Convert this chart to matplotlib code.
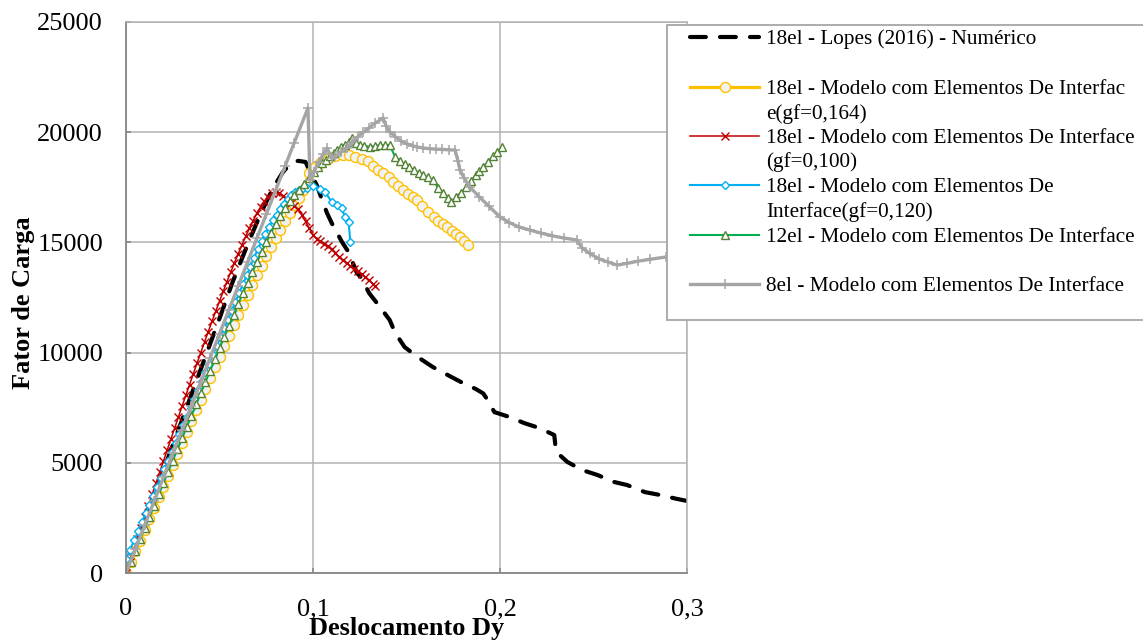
import matplotlib
matplotlib.use("Agg")
import matplotlib.pyplot as plt
from matplotlib.lines import Line2D
from matplotlib.patches import Rectangle

plt.rcParams['font.family'] = ['Liberation Serif', 'DejaVu Serif']

# --- data ---
lopes_x = [0, 0.01, 0.02, 0.03, 0.04, 0.05, 0.057, 0.065, 0.072, 0.0786, 0.084, 0.088,
           0.092, 0.096, 0.099, 0.102, 0.105, 0.1075, 0.110, 0.1155, 0.119, 0.1235,
           0.126, 0.130, 0.135, 0.141, 0.144, 0.149, 0.156, 0.164, 0.171, 0.179, 0.187,
           0.191, 0.193, 0.197, 0.205, 0.213, 0.221, 0.229, 0.230, 0.236, 0.244, 0.252,
           0.261, 0.268, 0.2775, 0.2856, 0.2947, 0.300]
lopes_y = [0, 2300, 4650, 6950, 9250, 11550, 13200, 14900, 16300, 17470, 18200, 18580,
           18700, 18650, 18100, 17600, 16900, 16330, 15880, 15020, 14560, 13610,
           13380, 12700, 12160, 11480, 10890, 10250, 9800, 9350, 9030, 8670, 8350,
           8150, 7900, 7300, 7080, 6800, 6580, 6260, 5500, 5040, 4670, 4450,
           4130, 3990, 3670, 3540, 3360, 3270]

gf164_x = [0, 0.0025, 0.005, 0.0075, 0.01, 0.0125, 0.015, 0.0175, 0.02, 0.0225, 0.025,
           0.0275, 0.03, 0.0325, 0.035, 0.0375, 0.04, 0.0425, 0.045, 0.0475, 0.05,
           0.0525, 0.055, 0.0575, 0.06, 0.0625, 0.065, 0.0675, 0.07, 0.0725, 0.075,
           0.0775, 0.08, 0.0825, 0.085, 0.0875, 0.09, 0.0925, 0.0947, 0.098, 0.101,
           0.104, 0.108, 0.112, 0.116, 0.119, 0.1225, 0.126, 0.1295, 0.132, 0.135,
           0.1375, 0.1405, 0.143, 0.1455, 0.148, 0.151, 0.1535, 0.1556, 0.1585, 0.1615,
           0.1645, 0.167, 0.1695, 0.1717, 0.1745, 0.1765, 0.1786, 0.181, 0.183]
gf164_y = [0, 490, 980, 1470, 1960, 2450, 2940, 3430, 3920, 4410, 4900,
           5400, 5900, 6400, 6890, 7380, 7870, 8360, 8850, 9330, 9810,
           10290, 10770, 11240, 11710, 12170, 12630, 13080, 13520, 13950, 14370,
           14780, 15180, 15570, 15950, 16320, 16680, 17030, 17380, 18150, 18400,
           18600, 18780, 18900, 18950, 18960, 18880, 18800, 18700, 18450, 18300,
           18150, 17950, 17740, 17560, 17380, 17200, 17050, 16920, 16650, 16380,
           16150, 15980, 15820, 15700, 15500, 15370, 15240, 15050, 14880]

gf100_x = [0, 0.002, 0.004, 0.006, 0.008, 0.010, 0.012, 0.014, 0.016, 0.018, 0.020,
           0.022, 0.024, 0.026, 0.028, 0.030, 0.032, 0.034, 0.036, 0.038, 0.040,
           0.042, 0.044, 0.046, 0.048, 0.050, 0.052, 0.054, 0.056, 0.058, 0.060,
           0.062, 0.064, 0.066, 0.068, 0.070, 0.072, 0.074, 0.076, 0.078, 0.080,
           0.082, 0.084, 0.086, 0.088, 0.090, 0.092, 0.094, 0.096, 0.098, 0.100,
           0.102, 0.104, 0.106, 0.108, 0.110, 0.112, 0.114, 0.116, 0.118, 0.120,
           0.122, 0.124, 0.126, 0.128, 0.130, 0.132, 0.133]
gf100_y = [0, 510, 1020, 1530, 2040, 2550, 3060, 3570, 4070, 4570, 5070,
           5570, 6070, 6570, 7070, 7570, 8060, 8550, 9040, 9520, 10000,
           10480, 10950, 11420, 11880, 12330, 12780, 13220, 13650, 14070, 14480,
           14880, 15270, 15640, 15990, 16320, 16620, 16880, 17080, 17220, 17290,
           17250, 17120, 16950, 16800, 16650, 16500, 16250, 15950, 15650, 15350,
           15150, 15050, 14950, 14820, 14680, 14520, 14350, 14200, 14050, 13920,
           13800, 13680, 13550, 13420, 13280, 13120, 13020]

gf120_x = [0, 0.002, 0.0045, 0.0065, 0.0085, 0.0105, 0.0125, 0.0145, 0.0165, 0.0185,
           0.0205, 0.0225, 0.0245, 0.0265, 0.0285, 0.0305, 0.0325, 0.0345, 0.0365,
           0.0385, 0.0405, 0.0425, 0.0445, 0.0465, 0.0485, 0.0505, 0.0525, 0.0545,
           0.0565, 0.0585, 0.0605, 0.0625, 0.0645, 0.0665, 0.0685, 0.0705, 0.0725,
           0.0745, 0.0765, 0.0785, 0.0805, 0.0825, 0.0845, 0.0865, 0.0885, 0.0905,
           0.0925, 0.0945, 0.0968, 0.100, 0.1035, 0.1065, 0.110, 0.113, 0.1155,
           0.117, 0.119, 0.120]
gf120_y = [620, 1040, 1500, 1900, 2300, 2700, 3100, 3500, 3900, 4300,
           4700, 5100, 5500, 5900, 6300, 6700, 7100, 7500, 7900,
           8300, 8700, 9100, 9500, 9900, 10300, 10700, 11100, 11500,
           11900, 12300, 12700, 13100, 13500, 13900, 14300, 14700, 15050,
           15400, 15700, 16000, 16250, 16500, 16750, 16950, 17150, 17300,
           17400, 17450, 17470, 17550, 17420, 17290, 16830, 16700, 16560,
           16150, 15920, 15020]

el12_x = [0, 0.0025, 0.005, 0.0075, 0.01, 0.0125, 0.015, 0.0175, 0.02, 0.0225, 0.025,
          0.0275, 0.03, 0.0325, 0.035, 0.0375, 0.04, 0.0425, 0.045, 0.0475, 0.05,
          0.0525, 0.055, 0.0575, 0.06, 0.0625, 0.065, 0.0675, 0.07, 0.0725, 0.075,
          0.0775, 0.08, 0.0825, 0.085, 0.0875, 0.09, 0.0925, 0.095, 0.098, 0.1005,
          0.1027, 0.105, 0.107, 0.109, 0.111, 0.113, 0.115, 0.117, 0.119, 0.121,
          0.123, 0.125, 0.1275, 0.1305, 0.133, 0.136, 0.1385, 0.141, 0.144, 0.1465,
          0.149, 0.1515, 0.154, 0.1565, 0.159, 0.1615, 0.164, 0.167, 0.1695, 0.172,
          0.174, 0.1765, 0.179, 0.182, 0.1845, 0.187, 0.189, 0.191, 0.1935, 0.196,
          0.1985, 0.201]
el12_y = [0, 510, 1020, 1530, 2040, 2550, 3060, 3570, 4080, 4590, 5100,
          5610, 6120, 6630, 7140, 7650, 8160, 8670, 9180, 9690, 10200,
          10700, 11200, 11700, 12200, 12690, 13170, 13640, 14100, 14550, 15000,
          15420, 15820, 16200, 16560, 16880, 17150, 17400, 17650, 17920, 18200,
          18420, 18600, 18740, 18900, 19050, 19190, 19320, 19440, 19550, 19730,
          19500, 19420, 19380, 19330, 19360, 19420, 19400, 19420, 18870, 18700,
          18550, 18400, 18280, 18150, 18050, 17950, 17830, 17470, 17250, 17000,
          16830, 17050, 17250, 17510, 17800, 18050, 18250, 18420, 18650, 18900,
          19100, 19330]

el8_x = [0, 0.005, 0.01, 0.015, 0.02, 0.025, 0.03, 0.035, 0.04, 0.045, 0.05, 0.055,
         0.06, 0.065, 0.07, 0.075, 0.08, 0.085, 0.09, 0.0973, 0.0984, 0.1005, 0.103,
         0.1055, 0.1075, 0.110, 0.112, 0.115, 0.118, 0.121, 0.124, 0.127, 0.130,
         0.133, 0.1375, 0.139, 0.141, 0.144, 0.147, 0.150, 0.1535, 0.1556, 0.159,
         0.1625, 0.166, 0.169, 0.1725, 0.176, 0.1775, 0.1786, 0.181, 0.184, 0.189,
         0.194, 0.200, 0.205, 0.210, 0.216, 0.222, 0.228, 0.234, 0.241, 0.244,
         0.248, 0.253, 0.258, 0.2626, 0.268, 0.274, 0.280, 0.289, 0.295, 0.300]
el8_y = [0, 1085, 2170, 3255, 4340, 5425, 6510, 7595, 8680, 9765, 10850, 11935,
         13020, 14105, 15190, 16275, 17360, 18445, 19530, 21100, 17830, 18200, 18650,
         19000, 19280, 18830, 18900, 19100, 19300, 19550, 19800, 20000, 20200,
         20400, 20640, 20300, 20010, 19800, 19600, 19480, 19380, 19330, 19280,
         19250, 19230, 19220, 19200, 19190, 18700, 18280, 17900, 17500, 17060,
         16650, 16150, 15900, 15700, 15560, 15420, 15300, 15200, 15110, 14740,
         14500, 14250, 14100, 13970, 14050, 14150, 14230, 14340, 14400, 14450]

labels = ['18el - Lopes (2016) - Numérico',
          '18el - Modelo com Elementos De Interfac\ne(gf=0,164)',
          '18el - Modelo com Elementos De Interface\n(gf=0,100)',
          '18el - Modelo com Elementos De\nInterface(gf=0,120)',
          '12el - Modelo com Elementos De Interface',
          '8el - Modelo com Elementos De Interface']

styles = [
    dict(color='black', lw=3.0, dashes=(3.8, 3.4), dash_capstyle='round'),
    dict(color='#FFC000', lw=2.3, marker='o', ms=7.2, mfc='#F2F2F2', mec='#FFC000', mew=1.0),
    dict(color='#C00000', lw=1.1, marker='x', ms=5.5, mec='#C00000', mew=1.0),
    dict(color='#00B0F0', lw=1.5, marker='D', ms=4.2, mfc='white', mec='#00B0F0', mew=1.0),
    dict(color='#00B050', lw=1.5, marker='^', ms=5.2, mfc='white', mec='#548235', mew=1.0),
    dict(color='#A5A5A5', lw=2.4, marker='+', ms=6.5, mec='#A5A5A5', mew=1.1),
]

W, H = 1143, 640
fig = plt.figure(figsize=(W / 100, H / 100), dpi=100)
ax = fig.add_axes([126 / W, (H - 573) / H, 561 / W, 551 / H])

series = [(lopes_x, lopes_y), (gf164_x, gf164_y), (gf100_x, gf100_y),
          (gf120_x, gf120_y), (el12_x, el12_y), (el8_x, el8_y)]
for (xs, ys), st in zip(series, styles):
    ax.plot(xs, ys, **st)

ax.set_xlim(0, 0.3)
ax.set_ylim(0, 25000)
ax.set_xticks([0, 0.1, 0.2, 0.3])
ax.set_xticklabels(['0', '0,1', '0,2', '0,3'])
ax.set_yticks([0, 5000, 10000, 15000, 20000, 25000])
ax.set_yticklabels(['0', '5000', '10000', '15000', '20000', '25000'])
ax.grid(True, color='#B3B3B3', lw=1.1)
ax.set_axisbelow(True)
for s in ['left', 'bottom']:
    ax.spines[s].set_color('#868686')
    ax.spines[s].set_linewidth(1.3)
for s in ['top', 'right']:
    ax.spines[s].set_color('#B3B3B3')
    ax.spines[s].set_linewidth(1.1)
ax.tick_params(axis='both', direction='in', length=3.6, width=1.2, color='#868686',
               labelsize=19)
ax.tick_params(axis='x', pad=18)
ax.tick_params(axis='y', pad=16.5)

ax.set_xlabel('Deslocamento Dy', fontsize=19, fontweight='bold')
ax.xaxis.set_label_coords(0.5, -0.079)
ax.xaxis.label.set_va('top')
ax.set_ylabel('Fator de Carga', fontsize=19, fontweight='bold')
ax.yaxis.set_label_coords(-0.162, 0.49)

# legend box drawn by hand to match the wrapped Excel layout
fx = lambda px: px / W
fy = lambda py: 1 - py / H
box = Rectangle((fx(667), fy(320)), fx(1160) - fx(667), fy(25) - fy(320),
                transform=fig.transFigure, facecolor='white', edgecolor='#A6A6A6',
                lw=1.3, zorder=5)
fig.add_artist(box)
entry_y = [37, 87, 136, 185, 235, 284]
for lab, st, y0 in zip(labels, styles, entry_y):
    h = Line2D([fx(690), fx(724.5), fx(759)], [fy(y0)] * 3, transform=fig.transFigure,
               markevery=[1], zorder=6, **st)
    fig.add_artist(h)
    for k, line in enumerate(lab.split('\n')):
        fig.text(fx(766), fy(y0 + 7 + 24.5 * k), line, fontsize=15.3, va='baseline',
                 ha='left', zorder=6)

fig.savefig('out.png', dpi=100)
